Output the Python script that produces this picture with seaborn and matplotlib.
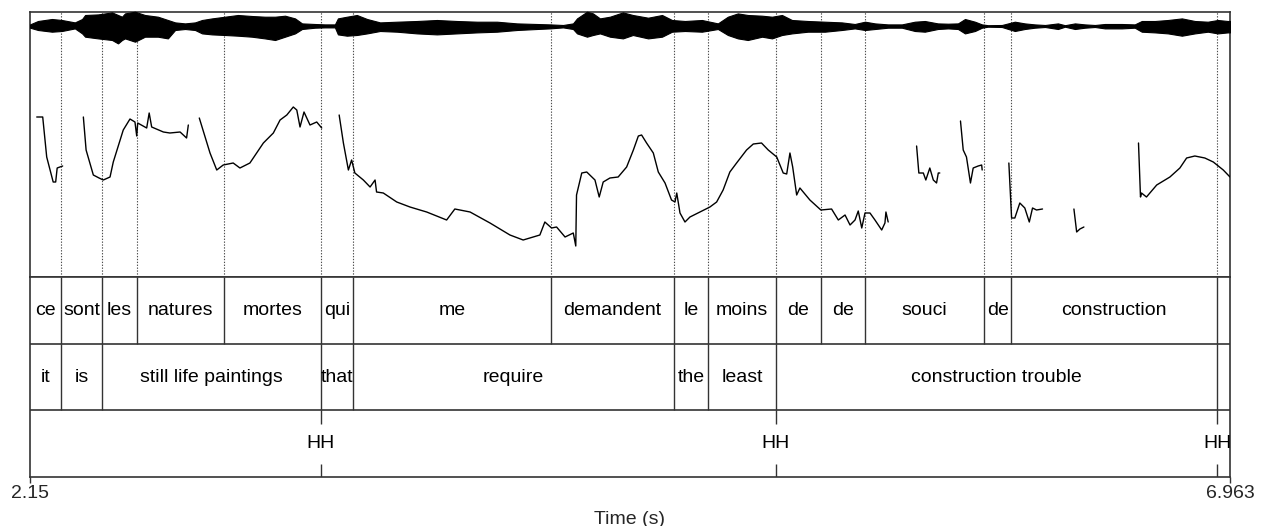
import numpy as np
import pandas as pd
import matplotlib
matplotlib.use("Agg")
import matplotlib.pyplot as plt
import seaborn as sns

# ---------------- data ----------------
T_START, T_END = 2.15, 6.963

tier1_bounds = [2.150, 2.274, 2.439, 2.579, 2.928, 3.317, 3.446, 4.240, 4.733,
                4.870, 5.142, 5.323, 5.499, 5.977, 6.085, 6.911, 6.963]
tier1_labels = ["ce", "sont", "les", "natures", "mortes", "qui", "me", "demandent",
                "le", "moins", "de", "de", "souci", "de", "construction", ""]

tier2_bounds = [2.150, 2.274, 2.439, 3.317, 3.446, 4.733, 4.870, 5.142, 6.911, 6.963]
tier2_labels = ["it", "is", "still life paintings", "that", "require", "the",
                "least", "construction trouble", ""]

tone_times = [3.317, 5.142, 6.911]
tone_labels = ["HH", "HH", "HH"]

# pitch contour (voiced stretches), time in s, F0 in Hz
f0_time = [
    [2.177, 2.201, 2.217, 2.243, 2.253, 2.259, 2.281],
    [2.364, 2.375, 2.404, 2.427, 2.444, 2.471, 2.484, 2.524, 2.551, 2.571, 2.578,
     2.582, 2.618, 2.628, 2.638, 2.685, 2.711, 2.752, 2.778, 2.785],
    [2.829, 2.872, 2.899, 2.925, 2.965, 2.992, 3.032, 3.086, 3.126, 3.153, 3.180,
     3.206, 3.220, 3.233, 3.249, 3.273, 3.300, 3.320],
    [3.390, 3.407, 3.427, 3.440, 3.453, 3.487, 3.514, 3.534, 3.540, 3.567, 3.621,
     3.674, 3.714, 3.741, 3.821, 3.854, 3.915, 3.995, 4.075, 4.128, 4.195, 4.215,
     4.242, 4.262, 4.296, 4.329, 4.339, 4.342, 4.363, 4.383, 4.416, 4.433, 4.449,
     4.476, 4.509, 4.543, 4.570, 4.590, 4.603, 4.623, 4.650, 4.670, 4.697, 4.723,
     4.737, 4.744, 4.757, 4.777, 4.797, 4.837, 4.877, 4.904, 4.930, 4.957, 4.984,
     5.024, 5.051, 5.084, 5.111, 5.145, 5.171, 5.185, 5.198, 5.209, 5.225, 5.238,
     5.278, 5.322, 5.365, 5.392, 5.419, 5.439, 5.459, 5.472, 5.486, 5.499, 5.519,
     5.539, 5.566, 5.579, 5.583, 5.592],
    [5.706, 5.715, 5.733, 5.743, 5.759, 5.773, 5.786, 5.793, 5.799],
    [5.882, 5.893, 5.906, 5.922, 5.933, 5.953, 5.967, 5.969],
    [6.076, 6.087, 6.100, 6.120, 6.140, 6.158, 6.171, 6.187, 6.211],
    [6.337, 6.348, 6.361, 6.377],
    [6.596, 6.604, 6.608, 6.628, 6.669, 6.722, 6.762, 6.789, 6.822, 6.862, 6.896,
     6.936, 6.963],
]
f0_hz = [
    [278, 278, 238, 213, 213, 227, 229],
    [278, 245, 220, 217, 215, 218, 233, 265, 276, 273, 259, 272, 267, 282, 268,
     263, 262, 263, 257, 270],
    [277, 242, 225, 230, 232, 227, 232, 252, 262, 275, 280, 288, 285, 268, 283,
     270, 273, 267],
    [280, 252, 225, 235, 222, 215, 208, 215, 203, 202, 193, 188, 185, 183, 175,
     186, 183, 172, 160, 155, 160, 173, 167, 168, 158, 162, 149, 200, 222, 223,
     215, 198, 213, 217, 218, 228, 245, 259, 260, 252, 242, 223, 212, 195, 193,
     202, 182, 173, 178, 183, 188, 193, 205, 223, 232, 245, 251, 252, 245, 238,
     222, 221, 242, 228, 200, 207, 195, 185, 186, 175, 180, 170, 175, 184, 167,
     182, 182, 175, 165, 172, 183, 173],
    [249, 222, 222, 215, 227, 215, 212, 222, 222],
    [274, 245, 238, 212, 227, 229, 230, 225],
    [232, 177, 177, 192, 187, 173, 187, 185, 186],
    [186, 163, 166, 168],
    [252, 198, 202, 198, 210, 218, 227, 237, 239, 237, 233, 225, 218],
]

# waveform amplitude envelope (upper / lower excursion, arbitrary units)
wave_time = [2.150, 2.182, 2.238, 2.278, 2.330, 2.359, 2.371, 2.423, 2.479, 2.503,
             2.519, 2.531, 2.571, 2.611, 2.663, 2.703, 2.732, 2.772, 2.812, 2.840,
             2.880, 2.932, 2.984, 3.040, 3.092, 3.133, 3.173, 3.213, 3.241, 3.293,
             3.333, 3.373, 3.385, 3.421, 3.461, 3.502, 3.554, 3.622, 3.702, 3.782,
             3.862, 3.943, 4.023, 4.103, 4.183, 4.235, 4.288, 4.328, 4.344, 4.384,
             4.408, 4.436, 4.476, 4.528, 4.568, 4.629, 4.685, 4.725, 4.777, 4.845,
             4.909, 4.949, 4.989, 5.029, 5.086, 5.126, 5.166, 5.206, 5.270, 5.338,
             5.406, 5.458, 5.499, 5.539, 5.591, 5.647, 5.699, 5.739, 5.791, 5.832,
             5.872, 5.900, 5.940, 5.968, 5.992, 6.048, 6.100, 6.140, 6.180, 6.221,
             6.273, 6.301, 6.341, 6.381, 6.421, 6.461, 6.529, 6.581, 6.609, 6.662,
             6.714, 6.770, 6.822, 6.874, 6.914, 6.954, 6.963]
wave_up = [1.3, 4.7, 6.7, 5.7, 3.3, 6.7, 10.7, 11.3, 13.3, 10.7, 9.0, 12.3, 14.0,
           10.7, 9.0, 5.7, 3.3, 2.3, 3.3, 5.7, 7.3, 9.0, 10.7, 9.7, 9.0, 9.0, 10.0,
           7.3, 2.3, 1.7, 1.3, 1.3, 7.3, 9.0, 10.7, 6.7, 3.3, 4.0, 4.7, 5.7, 4.7,
           4.0, 4.0, 2.3, 1.7, 1.3, 0.7, 2.3, 7.3, 14.0, 12.3, 7.3, 9.0, 13.3, 10.7,
           8.0, 10.7, 5.7, 4.7, 5.7, 2.3, 9.0, 12.3, 10.7, 10.0, 9.0, 10.7, 5.7, 4.7,
           4.0, 3.3, 1.7, 4.0, 2.3, 1.3, 1.3, 4.0, 4.7, 2.3, 2.0, 2.3, 6.7, 4.0, 1.3,
           0.5, 0.7, 4.0, 2.3, 1.3, 0.7, 2.3, 0.5, 2.3, 1.3, 0.7, 1.7, 1.7, 1.3, 4.7,
           4.7, 5.7, 7.3, 4.7, 4.0, 5.7, 4.7, 4.7]
wave_low = [2.0, 4.3, 6.0, 5.3, 2.7, 7.7, 11.0, 12.7, 14.3, 17.7, 14.3, 12.7, 16.0,
            11.0, 11.0, 12.7, 4.3, 3.3, 4.3, 7.7, 8.7, 9.3, 10.0, 11.0, 12.7, 14.3,
            11.0, 7.7, 3.3, 2.0, 1.7, 1.7, 8.7, 10.0, 9.3, 7.7, 5.3, 6.0, 7.7, 8.7,
            7.7, 6.7, 6.0, 4.3, 3.3, 2.7, 1.7, 3.3, 7.7, 11.0, 9.3, 7.7, 11.0, 12.7,
            9.3, 12.7, 11.0, 6.0, 5.3, 6.0, 3.3, 9.3, 12.7, 14.3, 11.0, 12.7, 9.3,
            7.7, 6.0, 6.0, 4.3, 2.7, 4.3, 3.3, 2.0, 2.0, 5.3, 6.0, 3.3, 2.7, 3.3, 7.7,
            5.3, 2.0, 1.0, 1.3, 5.3, 3.3, 2.0, 1.3, 3.3, 1.0, 3.3, 2.0, 1.3, 2.7, 2.7,
            2.0, 6.0, 6.7, 7.7, 10.0, 7.7, 6.0, 7.7, 6.7, 6.7]

tick_values = [2.15, 6.963]
tick_labels = ["2.15", "6.963"]
x_label = "Time (s)"

# ---------------- style ----------------
sns.set_theme(style="white")
plt.rcParams["font.family"] = ["Liberation Sans", "DejaVu Sans"]

W, H = 1264, 526
fig = plt.figure(figsize=(W / 100, H / 100), dpi=100)


def rect(x0, y0, x1, y1):
    return [x0 / W, 1 - y1 / H, (x1 - x0) / W, (y1 - y0) / H]


FRAME = "0.2"
FS = 14

# pitch panel
ax_p = fig.add_axes(rect(30, 12, 1230, 277))
ax_p.set_xlim(T_START, T_END)
ax_p.set_ylim(118, 383)
ax_p.set_xticks([])
ax_p.set_yticks([])
for s in ax_p.spines.values():
    s.set_color(FRAME)
    s.set_linewidth(1.2)

for b in tier1_bounds[1:-1]:
    ax_p.axvline(b, color="0.3", lw=0.8, ls=(0, (1.2, 1.4)), zorder=1)

rows = []
for i, (ts, hs) in enumerate(zip(f0_time, f0_hz)):
    for t, h in zip(ts, hs):
        rows.append({"t": t, "hz": h, "piece": i})
df_f0 = pd.DataFrame(rows)
sns.lineplot(data=df_f0, x="t", y="hz", units="piece", estimator=None, sort=False,
             color="black", lw=1.0, ax=ax_p, legend=False, zorder=3)
ax_p.set_xlabel("")
ax_p.set_ylabel("")

# waveform panel (centre line at y = 25.7 px)
ax_w = fig.add_axes(rect(30, 6, 1230, 46))
ax_w.set_xlim(T_START, T_END)
ax_w.set_ylim(-20.3, 19.7)
ax_w.axis("off")
ax_w.patch.set_visible(False)
ax_w.fill_between(wave_time, wave_up, -np.asarray(wave_low), color="black", lw=0.8)

# tiers panel
ax_t = fig.add_axes(rect(30, 277, 1230, 477))
ax_t.set_xlim(T_START, T_END)
ax_t.set_ylim(0, 3)
for s in ax_t.spines.values():
    s.set_color(FRAME)
    s.set_linewidth(1.2)
ax_t.axhline(1, color=FRAME, lw=1.2)
ax_t.axhline(2, color=FRAME, lw=1.2)

for b in tier1_bounds[1:-1]:
    ax_t.vlines(b, 2, 3, color=FRAME, lw=1.0)
for i, lab in enumerate(tier1_labels):
    mid = (tier1_bounds[i] + tier1_bounds[i + 1]) / 2
    ax_t.text(mid, 2.5, lab, ha="center", va="center", fontsize=FS, color="black")

for b in tier2_bounds[1:-1]:
    ax_t.vlines(b, 1, 2, color=FRAME, lw=1.0)
for i, lab in enumerate(tier2_labels):
    mid = (tier2_bounds[i] + tier2_bounds[i + 1]) / 2
    ax_t.text(mid, 1.5, lab, ha="center", va="center", fontsize=FS, color="black")

for t, lab in zip(tone_times, tone_labels):
    ax_t.vlines(t, 0.8, 1.0, color=FRAME, lw=1.0)
    ax_t.vlines(t, 0.0, 0.2, color=FRAME, lw=1.0)
    ax_t.text(t, 0.5, lab, ha="center", va="center", fontsize=FS, color="black")

ax_t.set_yticks([])
ax_t.set_xticks(tick_values)
ax_t.set_xticklabels(tick_labels)
ax_t.tick_params(axis="x", direction="out", length=4.5, width=1.0, color=FRAME,
                 pad=1.5, labelsize=FS, bottom=True)
ax_t.set_xlabel(x_label, fontsize=FS, labelpad=6)

fig.savefig("out.png", dpi=100)
